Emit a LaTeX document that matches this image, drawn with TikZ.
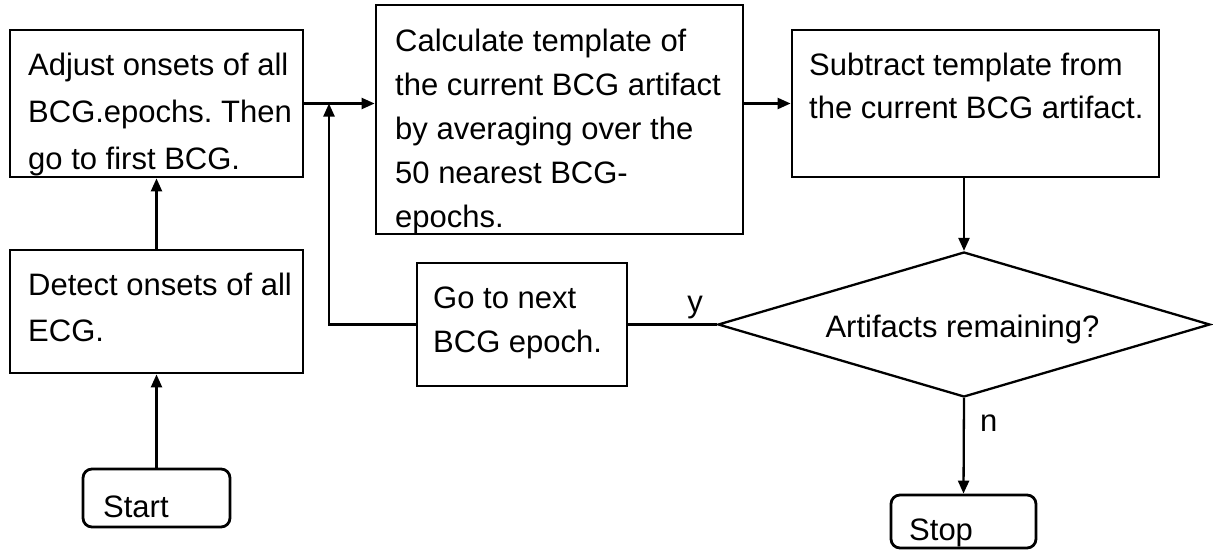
\documentclass[tikz,border=0pt]{standalone}
\usepackage{fontspec}
\setmainfont{Liberation Sans}
\usetikzlibrary{arrows.meta,shapes.geometric}

% multi-line left-aligned text whose baseline is that of the first line
\newcommand\boxtext[2]{{\fontsize{31}{#1}\selectfont\begin{tabular}[t]{@{}l@{}}#2\end{tabular}}}

\begin{document}
\frenchspacing
\begin{tikzpicture}[x=1pt,y=-1pt,
  box/.style={draw, line width=2.8pt, inner sep=0pt, rectangle},
  term/.style={box, rounded corners=9pt},
  txt/.style={anchor=base west, inner sep=0pt, font=\fontsize{31}{44}\selectfont},
  conn/.style={line width=2.3pt},
  arr/.style={conn, -{Triangle[length=13pt,width=11pt]}},
]
\useasboundingbox (0,0) rectangle (1213,551);

% process boxes
\node[box, minimum width=293pt, minimum height=147pt] (adj)  at (156.5,103.5) {};
\node[box, minimum width=293pt, minimum height=123pt] (det)  at (156.5,311.5) {};
\node[term, minimum width=147pt, minimum height=58pt] (start) at (156.5,498) {};
\node[box, minimum width=367pt, minimum height=229pt] (calc) at (559.5,119.5) {};
\node[box, minimum width=367pt, minimum height=147pt] (sub)  at (975.5,103.5) {};
\node[box, minimum width=210pt, minimum height=123pt] (next) at (522,324.5) {};
\node[diamond, draw, line width=2.3pt, inner sep=0pt,
      minimum width=492pt, minimum height=145pt] (dec) at (964,324.5) {};
\node[term, minimum width=145pt, minimum height=53pt] (stop) at (963.5,521.5) {};

% texts
\node[txt] (adjT)  at (28,76)   {\boxtext{46.5}{Adjust onsets of all\\BCG.epochs. Then\\go to first BCG.}};
\node[txt] (detT)  at (28,295)  {\boxtext{46}{Detect onsets of all\\ECG.}};
\node[txt] (startT) at (103,517) {Start};
\node[txt] (calcT) at (395,52)  {\boxtext{44}{Calculate template of\\the current BCG artifact\\by averaging over the\\50 nearest BCG-\\epochs.}};
\node[txt] (subT)  at (809,76)  {\boxtext{43}{Subtract template from\\the current BCG artifact.}};
\node[txt] (nextT) at (433,308) {\boxtext{44}{Go to next\\BCG epoch.}};
\node[txt, anchor=base] (decT) at (962.5,337) {Artifacts remaining?};
\node[txt] (stopT) at (909,540) {Stop};
\node[txt, anchor=base] (yes) at (695,312) {y};
\node[txt] (no) at (980,431) {n};

% connectors
\coordinate (j) at (329,103.5);
\draw[arr] (start.north) -- (det.south);
\draw[arr] (det.north) -- (adj.south);
\draw[arr] (adj.east) -- (calc.west |- adj.east);
\draw[arr] (calc.east |- sub.west) -- (sub.west);
\draw[arr] (sub.south -| dec.north) -- (dec.north);
\draw[conn] (dec.west) -- (next.east);
\draw[arr] (next.west) -| (j);
\draw[arr] (dec.south) -- (stop.north);
\end{tikzpicture}
\end{document}
